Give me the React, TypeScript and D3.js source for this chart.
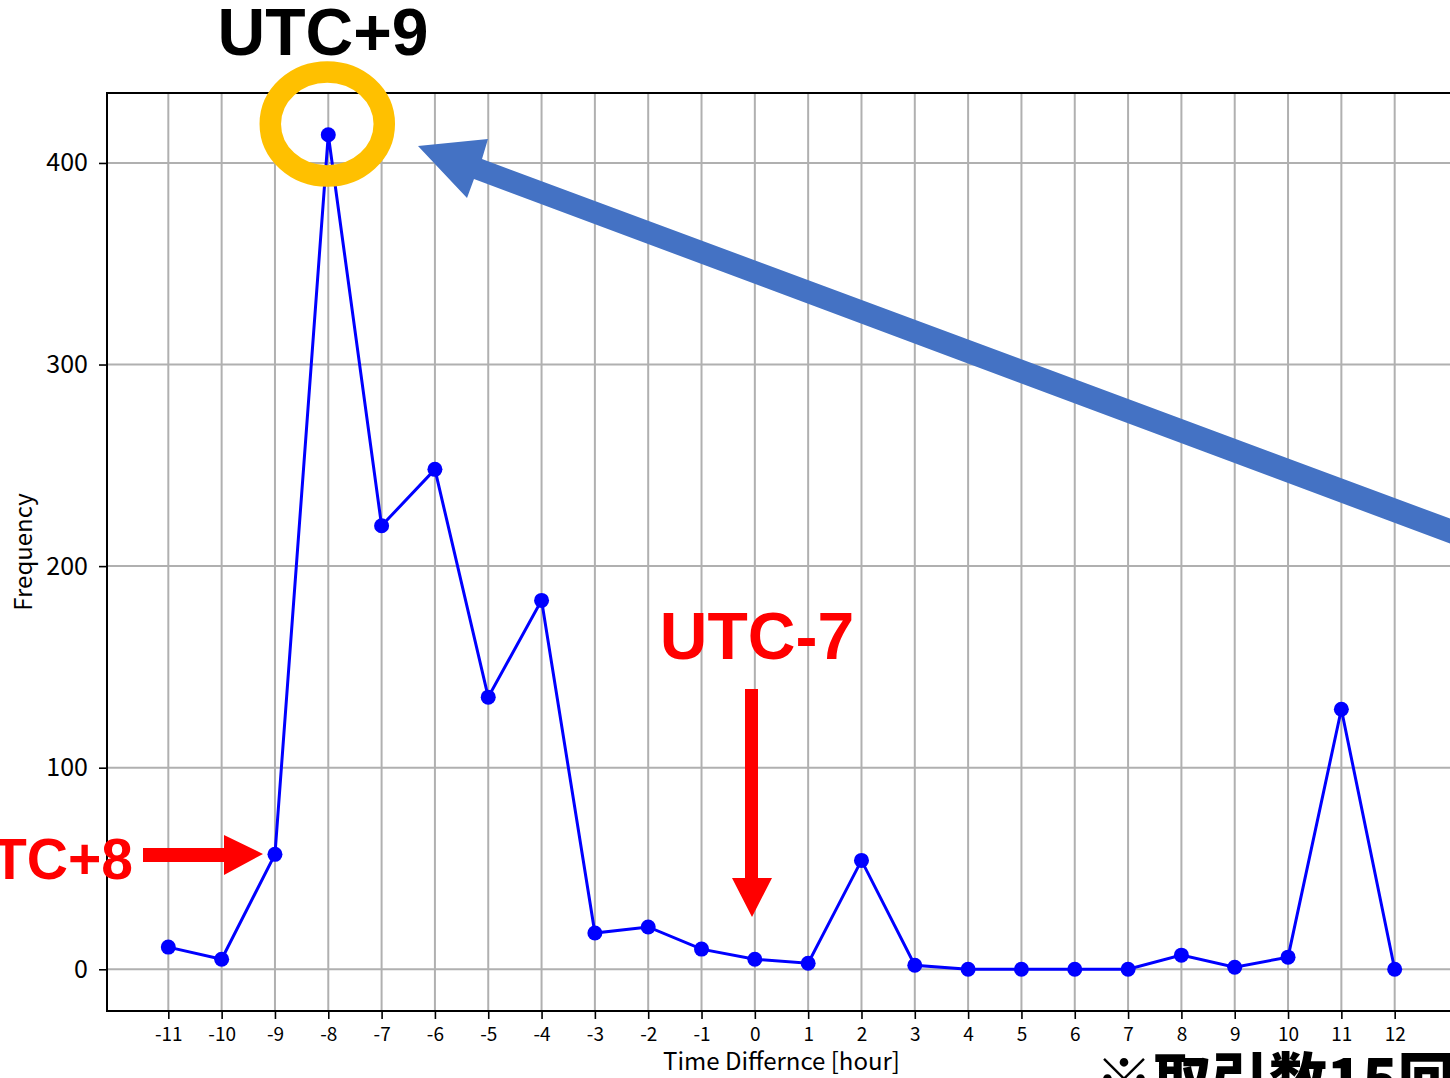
import * as d3 from "d3";
import { useEffect, useRef } from "react";

const hours = [-11, -10, -9, -8, -7, -6, -5, -4, -3, -2, -1, 0, 1, 2, 3, 4, 5, 6, 7, 8, 9, 10, 11, 12];
const frequency = [11, 5, 57, 414, 220, 248, 135, 183, 18, 21, 10, 5, 3, 54, 2, 0, 0, 0, 0, 7, 1, 6, 129, 0];
const yTicks = [0, 100, 200, 300, 400];

const W = 1450;
const H = 1078;
// axes box (right edge falls outside the cropped picture)
const plot = { left: 107, top: 93, right: 1456, bottom: 1011 };
const axisFont = "'Noto Sans CJK JP', 'Noto Sans', sans-serif";
const boldFont = "'Liberation Sans', Arial, Helvetica, sans-serif";

export default function App() {
    const svgRef = useRef(null);

    useEffect(() => {
        const svg = d3.select(svgRef.current);
        svg.selectAll("*").remove();

        // matplotlib style 5% margins
        const xPad = (d3.max(hours)! - d3.min(hours)!) * 0.05;
        const yPad = (d3.max(frequency)! - d3.min(frequency)!) * 0.05;
        const x = d3.scaleLinear()
            .domain([d3.min(hours)! - xPad, d3.max(hours)! + xPad])
            .range([plot.left, plot.right]);
        const y = d3.scaleLinear()
            .domain([d3.min(frequency)! - yPad, d3.max(frequency)! + yPad])
            .range([plot.bottom, plot.top]);

        svg.append("rect")
            .attr("width", W).attr("height", H)
            .attr("fill", "#ffffff");

        // grid
        const grid = svg.append("g")
            .attr("stroke", "#b0b0b0")
            .attr("stroke-width", 2);
        grid.selectAll("line.vx")
            .data(hours)
            .join("line")
            .attr("class", "vx")
            .attr("x1", d => x(d)).attr("x2", d => x(d))
            .attr("y1", plot.top).attr("y2", plot.bottom);
        grid.selectAll("line.hy")
            .data(yTicks)
            .join("line")
            .attr("class", "hy")
            .attr("x1", plot.left).attr("x2", plot.right)
            .attr("y1", d => y(d)).attr("y2", d => y(d));

        // x axis (plain hyphen for negatives, like matplotlib's output here)
        svg.append("g")
            .attr("transform", `translate(0,${plot.bottom})`)
            .call(d3.axisBottom(x).tickValues(hours).tickFormat(d => String(d)).tickSize(8).tickPadding(9))
            .call(g => g.select(".domain").remove())
            .call(g => g.selectAll(".tick line").attr("stroke", "#000").attr("stroke-width", 1.6))
            .call(g => g.selectAll(".tick text")
                .attr("fill", "#000")
                .style("font-family", axisFont)
                .style("font-size", "19px"));

        // y axis
        svg.append("g")
            .attr("transform", `translate(${plot.left},0)`)
            .call(d3.axisLeft(y).tickValues(yTicks).tickFormat(d => String(d)).tickSize(8).tickPadding(11))
            .call(g => g.select(".domain").remove())
            .call(g => g.selectAll(".tick line").attr("stroke", "#000").attr("stroke-width", 1.6))
            .call(g => g.selectAll(".tick text")
                .attr("fill", "#000")
                .style("font-family", axisFont)
                .style("font-size", "25px"));

        // spines
        svg.append("rect")
            .attr("x", plot.left).attr("y", plot.top)
            .attr("width", plot.right - plot.left)
            .attr("height", plot.bottom - plot.top)
            .attr("fill", "none")
            .attr("stroke", "#000")
            .attr("stroke-width", 2);

        // axis labels
        svg.append("text")
            .attr("x", (plot.left + plot.right) / 2)
            .attr("y", 1070)
            .attr("text-anchor", "middle")
            .style("font-family", axisFont)
            .style("font-size", "24px")
            .text("Time Differnce [hour]");

        svg.append("text")
            .attr("text-anchor", "middle")
            .attr("transform", `translate(32,${(plot.top + plot.bottom) / 2})rotate(-90)`)
            .style("font-family", axisFont)
            .style("font-size", "24px")
            .text("Frequency");

        // data line + markers
        const pts = hours.map((h, i) => [h, frequency[i]] as [number, number]);
        const line = d3.line<[number, number]>()
            .x(d => x(d[0]))
            .y(d => y(d[1]));
        svg.append("path")
            .attr("d", line(pts))
            .attr("fill", "none")
            .attr("stroke", "#0000ff")
            .attr("stroke-width", 3);
        svg.append("g")
            .selectAll("circle")
            .data(pts)
            .join("circle")
            .attr("cx", d => x(d[0]))
            .attr("cy", d => y(d[1]))
            .attr("r", 7.5)
            .attr("fill", "#0000ff");

        // annotations
        const peak = hours[frequency.indexOf(d3.max(frequency)!)];
        svg.append("ellipse")
            .attr("cx", x(peak) - 1).attr("cy", 124)
            .attr("rx", 57).attr("ry", 52)
            .attr("fill", "none")
            .attr("stroke", "#ffc000")
            .attr("stroke-width", 21.5);

        svg.append("text")
            .attr("x", 323).attr("y", 55)
            .attr("text-anchor", "middle")
            .style("font-family", boldFont)
            .style("font-weight", "bold")
            .style("font-size", "66px")
            .attr("fill", "#000")
            .text("UTC+9");

        // big blue arrow
        svg.append("polygon")
            .attr("points", [
                [418, 146], [488, 139], [482, 159], [1470, 526],
                [1462, 548], [474, 179], [467, 198]
            ].map(p => p.join(",")).join(" "))
            .attr("fill", "#4472c4");

        // UTC-7 label and down arrow
        svg.append("text")
            .attr("x", 757).attr("y", 659)
            .attr("text-anchor", "middle")
            .style("font-family", boldFont)
            .style("font-weight", "bold")
            .style("font-size", "66px")
            .attr("fill", "#ff0000")
            .text("UTC-7");
        svg.append("polygon")
            .attr("points", [
                [745, 689], [758, 689], [758, 878], [772, 878],
                [752, 917], [732, 878], [745, 878]
            ].map(p => p.join(",")).join(" "))
            .attr("fill", "#ff0000");

        // UTC+8 label and right arrow
        svg.append("text")
            .attr("x", 133).attr("y", 879)
            .attr("text-anchor", "end")
            .style("font-family", boldFont)
            .style("font-weight", "bold")
            .style("font-size", "57px")
            .attr("fill", "#ff0000")
            .text("UTC+8");
        svg.append("polygon")
            .attr("points", [
                [143, 848], [224, 848], [224, 835], [263, 854],
                [224, 875], [224, 862], [143, 862]
            ].map(p => p.join(",")).join(" "))
            .attr("fill", "#ff0000");

        // footnote, cut off at the bottom
        svg.append("text")
            .attr("x", 1095).attr("y", 1101)
            .style("font-family", "'Noto Sans CJK JP', sans-serif")
            .style("font-weight", 900)
            .style("font-size", "58px")
            .attr("fill", "#000")
            .text("※取引数15回以上");
    }, []);

    return (
        <svg ref={svgRef} width={W} height={H}
            style={{ position: "absolute", left: 0, top: 0, display: "block" }} />
    );
}
